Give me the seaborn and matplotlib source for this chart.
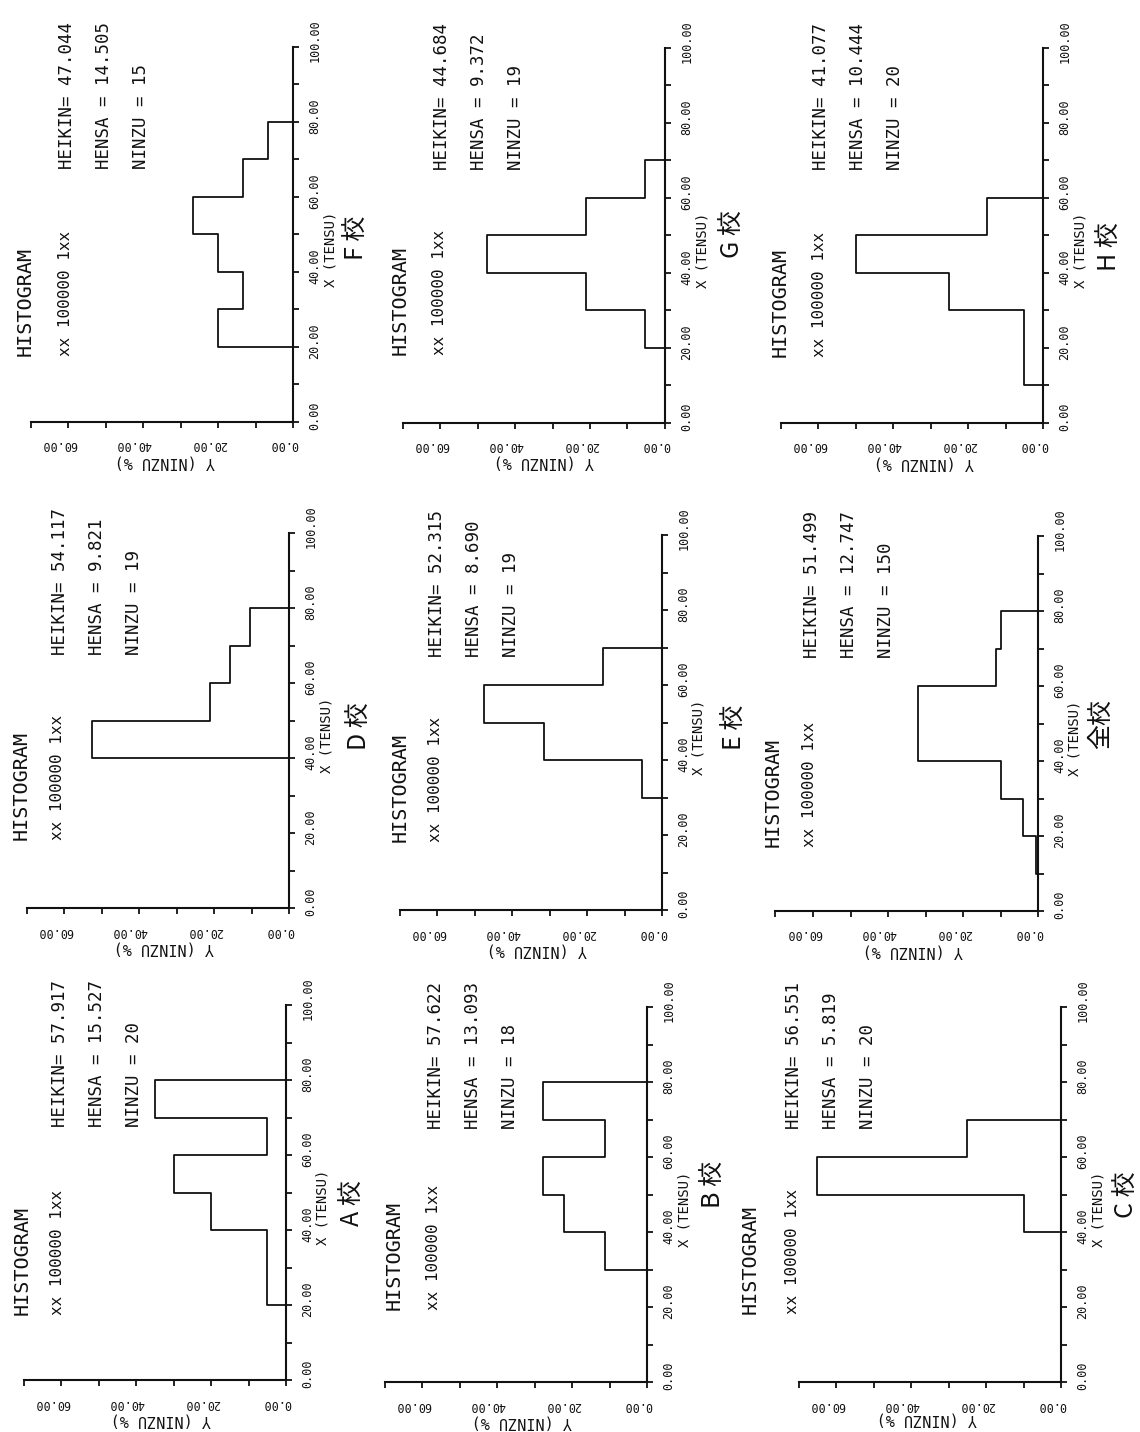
import matplotlib
matplotlib.use("Agg")
import matplotlib.pyplot as plt
import matplotlib.transforms as mtransforms
from matplotlib.ticker import FixedLocator
import seaborn as sns

# ---------------------------------------------------------------- data
# score classes (TENSU), 10-point bins from 0 to 100
bin_edges = [0, 10, 20, 30, 40, 50, 60, 70, 80, 90, 100]
bin_mids = [5, 15, 25, 35, 45, 55, 65, 75, 85, 95]

# pupils per score class for each school
counts_A = [0, 0, 1, 1, 4, 6, 1, 7, 0, 0]
counts_B = [0, 0, 0, 2, 4, 5, 2, 5, 0, 0]
counts_C = [0, 0, 0, 0, 2, 13, 5, 0, 0, 0]
counts_D = [0, 0, 0, 0, 10, 4, 3, 2, 0, 0]
counts_E = [0, 0, 0, 1, 6, 9, 3, 0, 0, 0]
counts_F = [0, 0, 3, 2, 3, 4, 2, 1, 0, 0]
counts_G = [0, 0, 1, 4, 9, 4, 1, 0, 0, 0]
counts_H = [0, 1, 1, 5, 10, 3, 0, 0, 0, 0]
counts_all = [0, 1, 6, 15, 48, 48, 17, 15, 0, 0]

# panel order on the sheet (top row first, left to right)
school_labels = ["F 校", "G 校", "H 校", "D 校", "E 校", "全校", "A 校", "B 校", "C 校"]
school_counts = [counts_F, counts_G, counts_H, counts_D, counts_E, counts_all,
                 counts_A, counts_B, counts_C]
heikin_values = [47.044, 44.684, 41.077, 54.117, 52.315, 51.499, 57.917, 57.622, 56.551]
hensa_values = [14.505, 9.372, 10.444, 9.821, 8.690, 12.747, 15.527, 13.093, 5.819]
ninzu_values = [15, 19, 20, 19, 19, 150, 20, 18, 20]

tensu_ticklabels = [0, 20, 40, 60, 80, 100]
ninzu_ticklabels = [0, 20, 40, 60]

# ---------------------------------------------------------------- layout
W, H = 1140, 1432
SCALE = 3.75          # pixels per unit on both axes
PCT_MAX = 70.0

# origin of each plot (pixel position of TENSU=0 / NINZU%=0)
origins = [(293, 422), (665, 423), (1043, 423),
           (289, 908), (662, 910), (1038, 911),
           (286, 1380), (647, 1382), (1061, 1382)]
hist_dx = [-268, -265, -263, -268, -262, -265, -264, -253, -311]
block_dx = [-228, -225, -224, -231, -227, -228, -228, -213, -269]
head_dy = [-66, -68, -66, -68, -68, -64, -65, -72, -68]
name_off = [(64, -184), (68, -189), (67, -176), (71, -182), (73, -183),
            (63, -187), (67, -177), (67, -198), (66, -187)]
ylab_off = [(-128, 40), (-121, 39), (-119, 40), (-125, 40), (-125, 40),
            (-125, 40), (-125, 40), (-125, 40), (-134, 37)]

sns.set_theme(style="white")
plt.rcParams["font.family"] = ["DejaVu Sans Mono", "DejaVu Sans"]
MONO = "DejaVu Sans Mono"
CJK = ["Noto Sans CJK JP", "DejaVu Sans"]
INK = "#111111"

fig = plt.figure(figsize=(W / 100, H / 100), dpi=100, facecolor="white")


def put(x, y, s, **kw):
    fig.text(x / W, 1 - y / H, s, color=INK, **kw)


def shift(dx, dy):
    return mtransforms.ScaledTranslation(dx / 100, dy / 100, fig.dpi_scale_trans)


for i in range(9):
    ox, oy = origins[i]
    ax = fig.add_axes([(ox - PCT_MAX * SCALE) / W, (H - oy) / H,
                       PCT_MAX * SCALE / W, 100 * SCALE / H])
    ax.set_facecolor("none")

    sns.histplot(y=bin_mids, weights=school_counts[i], bins=bin_edges,
                 stat="percent", element="step", fill=False,
                 color=INK, linewidth=1.3, ax=ax)

    ax.set_xlim(PCT_MAX, 0)
    ax.set_ylim(0, 100)
    ax.set_xlabel("")
    ax.set_ylabel("")
    for side in ("top", "left"):
        ax.spines[side].set_visible(False)
    for side in ("right", "bottom"):
        ax.spines[side].set_visible(True)
        ax.spines[side].set_color(INK)
        ax.spines[side].set_linewidth(1.5)

    ax.yaxis.set_ticks_position("right")
    ax.xaxis.set_ticks_position("bottom")
    ax.yaxis.set_major_locator(FixedLocator(list(range(0, 101, 10))))
    ax.xaxis.set_major_locator(FixedLocator(list(range(0, 71, 10))))
    ax.tick_params(axis="both", which="both", direction="out", length=4,
                   width=1.3, color=INK, labelleft=False, labelright=False,
                   labelbottom=False, labeltop=False)
    ax.grid(False)

    # TENSU tick labels, reading upward beside the score axis
    ytr = mtransforms.blended_transform_factory(ax.transAxes, ax.transData)
    for v in tensu_ticklabels:
        ax.text(1, v, f"{v:.2f}", transform=ytr + shift(22, 6),
                rotation=90, rotation_mode="anchor", ha="center", va="center",
                fontsize=8.5, family=MONO, color=INK)
    # NINZU % tick labels, upside down under the percent axis
    xtr = mtransforms.blended_transform_factory(ax.transData, ax.transAxes)
    for v in ninzu_ticklabels:
        ax.text(v, 0, f"{v:.2f}", transform=xtr + shift(-9, -23),
                rotation=180, rotation_mode="anchor", ha="center", va="center",
                fontsize=8.5, family=MONO, color=INK)

    # headings and statistics
    rot = dict(rotation=90, rotation_mode="anchor", ha="left", va="center")
    put(ox + hist_dx[i], oy + head_dy[i], "HISTOGRAM", fontsize=14.5,
        family=MONO, **rot)
    put(ox + block_dx[i], oy + head_dy[i], "xx 100000 1xx", fontsize=11.5,
        family=MONO, **rot)
    put(ox + block_dx[i] + 2, oy - 253, f"HEIKIN= {heikin_values[i]:.3f}",
        fontsize=12.5, family=MONO, **rot)
    put(ox + block_dx[i] + 39, oy - 253, f"HENSA = {hensa_values[i]:.3f}",
        fontsize=12.5, family=MONO, **rot)
    put(ox + block_dx[i] + 76, oy - 253, f"NINZU = {ninzu_values[i]}",
        fontsize=12.5, family=MONO, **rot)

    # axis titles
    put(ox + 37, oy - 135, "X (TENSU)", fontsize=10, family=MONO, **rot)
    yx, yy = ylab_off[i]
    put(ox + yx, oy + yy, "Y (NINZU %)", fontsize=11, family=MONO,
        rotation=180, rotation_mode="anchor", ha="center", va="center")

    # school name
    nx, ny = name_off[i]
    put(ox + nx, oy + ny, school_labels[i], fontsize=18, family=CJK,
        rotation=90, rotation_mode="anchor", ha="center", va="center")

fig.savefig("out.png", dpi=100, facecolor="white")
